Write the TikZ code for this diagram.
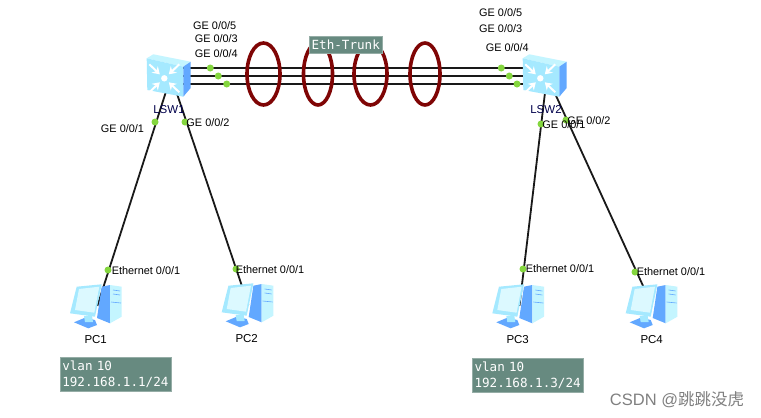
\documentclass[tikz,border=0pt]{standalone}
\usepackage{fontspec}
\setmainfont{Liberation Sans}
\newfontfamily\boxfont{DejaVu Sans Mono}
\newfontfamily\cjkfont{Noto Sans CJK SC}
\usepackage{xcolor}
\usetikzlibrary{arrows.meta,shapes.geometric}
\definecolor{boxgreen}{HTML}{678A80}
\definecolor{portgreen}{HTML}{84D63E}
\definecolor{ringred}{HTML}{7F0505}
\definecolor{iconlight}{HTML}{C4F5FF}
\definecolor{iconmid}{HTML}{A5E9FF}
\definecolor{iconblue}{HTML}{62A8FF}
\tikzset{
  hub/.style={inner sep=0pt,minimum size=2pt},
  link/.style={line width=1.8pt,black!90},
  ring/.style={ellipse,draw=ringred,line width=3.6pt,inner sep=0pt,minimum height=62pt},
  port/.style={circle,fill=portgreen,inner sep=0pt,minimum size=7pt},
  lab/.style={inner sep=0pt,font=\fontsize{10.9}{12}\selectfont},
  devname/.style={inner sep=0pt,font=\fontsize{11.5}{13}\selectfont},
  note/.style={fill=boxgreen,draw=boxgreen!70!white,line width=0.5pt,text=white,inner sep=0pt,font=\boxfont\fontsize{12.6}{16}\selectfont},
  pics/swicon/.style={code={
    \fill[iconlight] (-24.3,-17.7) -- (-17.7,-21.7) -- (19.7,-14.3) -- (12.3,-9.3) -- cycle;
    \fill[iconmid] (-24.3,-17.7) -- (12.3,-9.3) -- (12.3,20.7) -- (-23.7,14) -- cycle;
    \fill[iconblue] (12.3,-9.3) -- (19.7,-14.3) -- (19.7,12) -- (12.3,20.7) -- cycle;
    \fill[white] (-6.7,2.3) circle (3.2);
    \foreach \dx/\dy in {-1/-1,1/-1,-1/1,1/1}
      \draw[white,line width=2pt,-{Stealth[length=7pt,width=9pt]}]
        ({-6.7+\dx*15},{2.3+\dy*14}) -- ({-6.7+\dx*4.5},{2.3+\dy*4});
  }},
  pics/pcicon/.style={code={
    \fill[iconblue] (4.7,-20.3) -- (13,-22) -- (13,16.3) -- (0,11) -- cycle;
    \fill[iconlight] (13,-22) -- (24.7,-20.3) -- (24.7,9.7) -- (13,16.3) -- cycle;
    \draw[iconblue,line width=0.6pt] (16,-17) -- (23,-16) (16,-13) -- (23,-12) (14,-5) -- (24,-4);
    \fill[iconblue] (-23,15.3) -- (-12,10.7) -- (-2,13) -- (0,18) -- (-8.7,21.3) -- cycle;
    \fill[iconmid] (-13,9) -- (-5,9) -- (-4,15) -- (-12,15) -- cycle;
    \fill[iconmid] (-27,6.3) -- (-20.3,-20.3) -- (4.7,-22.7) -- (-2,9.7) -- cycle;
    \fill[iconlight!60!white] (-22,3) -- (-18,-18) -- (2.3,-20.3) -- (-2.7,5.7) -- cycle;
  }}
}
\begin{document}
\begin{tikzpicture}[x=1pt,y=-1pt]
\useasboundingbox[fill=white] (0,0) rectangle (761,418);
\node[hub] (lsw1) at (171,76) {}; \node[hub] (lsw2) at (547,76) {};
\node[hub] (pc1) at (97,307) {}; \node[hub] (pc2) at (248.7,306) {};
\node[hub] (pc3) at (519.3,307) {}; \node[hub] (pc4) at (652.7,307) {};
% trunk
\coordinate (t1) at (0,68); \coordinate (t3) at (0,84);
\draw[link] (lsw1 |- t1) -- (lsw2 |- t1);
\draw[link] (lsw1) -- (lsw2);
\draw[link] (lsw1 |- t3) -- (lsw2 |- t3);
\draw[link] (lsw1) -- (pc1); \draw[link] (lsw1) -- (pc2);
\draw[link] (lsw2) -- (pc3); \draw[link] (lsw2) -- (pc4);
\node[ring,minimum width=33pt] (ring1) at (263.5,74) {};
\node[ring,minimum width=29pt] (ring2) at (318,74) {};
\node[ring,minimum width=33pt] (ring3) at (370.5,74) {};
\node[ring,minimum width=30pt] (ring4) at (425,74) {};
\pic at (lsw1) {swicon}; \pic at (lsw2) {swicon};
\pic at (pc1) {pcicon}; \pic at (pc2) {pcicon}; \pic at (pc3) {pcicon}; \pic at (pc4) {pcicon};
% ports
\foreach \n/\x/\y in {a/210.3/68,b/218.3/76,c/226.7/84,d/501.3/68,e/509.3/76,f/517/84,
  g/155/122,h/185/122,i/541/124,j/566/120,k/108/270,l/236/269,m/523/269,n/635/272}
  \node[port] (port\n) at (\x,\y) {};
% labels
\node[devname,text=black!70!blue] (lswa) at (169,110) {LSW1};
\node[devname,text=black!70!blue] (lswb) at (546,110) {LSW2};
\node[lab] (ge1) at (214.7,26) {GE 0/0/5};
\node[lab] (ge2) at (216.3,39) {GE 0/0/3};
\node[lab] (ge3) at (216.3,54) {GE 0/0/4};
\node[lab] (ge4) at (122.5,129) {GE 0/0/1};
\node[lab] (ge5) at (208,123) {GE 0/0/2};
\node[lab] (ge6) at (500.7,13) {GE 0/0/5};
\node[lab] (ge7) at (500.7,29) {GE 0/0/3};
\node[lab] (ge8) at (507.3,48) {GE 0/0/4};
\node[lab] (ge9) at (564,125) {GE 0/0/1};
\node[lab] (ge10) at (589,120.7) {GE 0/0/2};
\node[lab] (eth1) at (146,271) {Ethernet 0/0/1};
\node[lab] (eth2) at (270,270) {Ethernet 0/0/1};
\node[lab] (eth3) at (560,269) {Ethernet 0/0/1};
\node[lab] (eth4) at (671,272) {Ethernet 0/0/1};
\node[devname] (name1) at (95.7,339.3) {PC1};
\node[devname] (name2) at (246.7,338.3) {PC2};
\node[devname] (name3) at (517.7,339.3) {PC3};
\node[devname] (name4) at (651.7,339.3) {PC4};
% boxes
\node[note,anchor=north west,minimum width=73pt,minimum height=17pt] (trunk) at (309,36) {};
\node[inner sep=0pt,text=white,font=\boxfont\fontsize{12.6}{14}\selectfont] (trunktxt) at (trunk) {Eth-Trunk};
\node[note,anchor=north west,minimum width=110.7pt,minimum height=33.4pt,text width=110.7pt,align=left] (vlan1) at (60,357.3) {\hspace{2pt}vlan 10\\\hspace{2pt}192.168.1.1/24};
\node[note,anchor=north west,minimum width=110.4pt,minimum height=33.4pt,text width=110.4pt,align=left] (vlan3) at (472.3,358.3) {\hspace{2pt}vlan 10\\\hspace{2pt}192.168.1.3/24};
\node[inner sep=0pt,text=black!50,font=\fontsize{16.5}{18}\selectfont] (mark) at (677,400) {CSDN @{\cjkfont 跳跳没虎}};
\end{tikzpicture}
\end{document}
